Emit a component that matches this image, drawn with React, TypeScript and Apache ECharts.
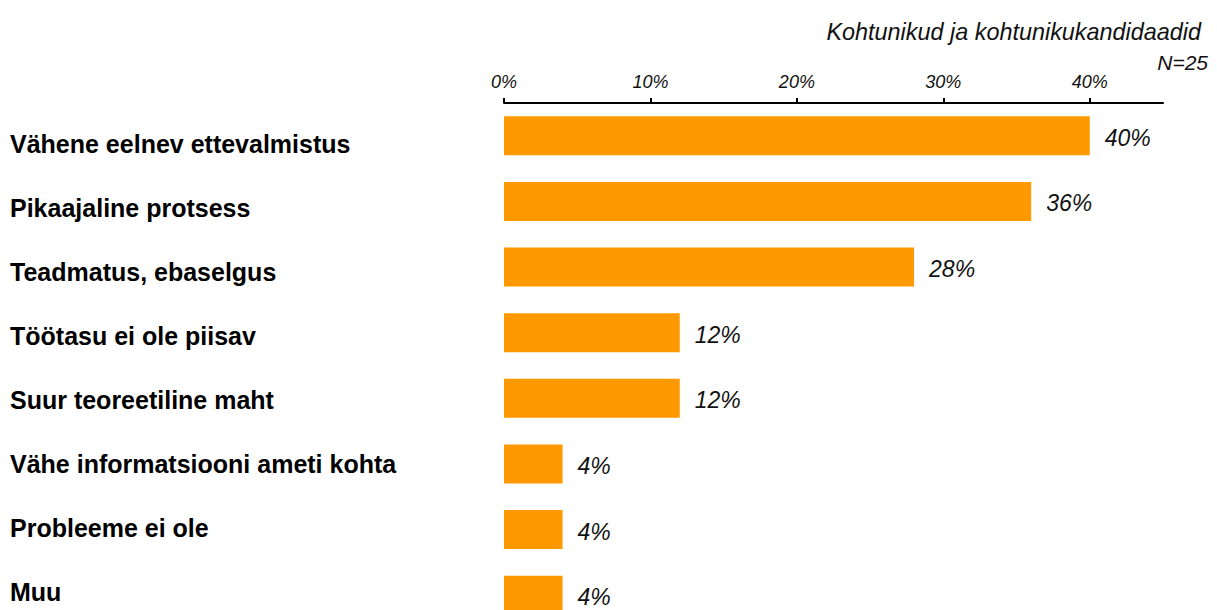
import React, { useEffect, useRef } from "react";
import * as echarts from "echarts";

const categories = [
  "Vähene eelnev ettevalmistus",
  "Pikaajaline protsess",
  "Teadmatus, ebaselgus",
  "Töötasu ei ole piisav",
  "Suur teoreetiline maht",
  "Vähe informatsiooni ameti kohta",
  "Probleeme ei ole",
  "Muu",
];
const values = [40, 36, 28, 12, 12, 4, 4, 4];
const tickValues = [0, 10, 20, 30, 40];
const titleText = "Kohtunikud ja kohtunikukandidaadid";
const sampleText = "N=25";

export default function App() {
  const ref = useRef<HTMLDivElement>(null);
  useEffect(() => {
    if (!ref.current) return;
    const chart = echarts.init(ref.current, null, { renderer: "svg" });
    const font = "'Liberation Sans', Arial, sans-serif";
    chart.setOption({
      animation: false,
      textStyle: { fontFamily: font },
      graphic: [
        {
          type: "text",
          right: 16,
          top: 20,
          style: {
            text: titleText,
            font: `italic 23.4px ${font}`,
            fill: "#111",
          },
        },
        {
          type: "text",
          right: 9,
          top: 52,
          style: {
            text: sampleText,
            font: `italic 21px ${font}`,
            fill: "#111",
          },
        },
      ],
      grid: [
        { left: 504, right: 54, top: 103, bottom: 12, containLabel: false },
        { left: 504, right: 54, top: 112.5, bottom: 16.3, containLabel: false },
      ],
      xAxis: [
        {
          type: "value",
          gridIndex: 0,
          position: "top",
          min: 0,
          max: 45,
          interval: 10,
          splitLine: { show: false },
          axisLine: { show: true, lineStyle: { color: "#000", width: 2 } },
          axisTick: {
            show: true,
            length: 5,
            lineStyle: { color: "#000", width: 2 },
            customValues: tickValues,
          },
          axisLabel: {
            customValues: tickValues,
            formatter: (v: number) => `${v}%`,
            fontStyle: "italic",
            fontSize: 18,
            color: "#111",
            margin: 12,
            fontFamily: font,
          },
        },
        {
          type: "value",
          gridIndex: 1,
          min: 0,
          max: 45,
          show: false,
        },
      ],
      yAxis: [
        {
          type: "category",
          gridIndex: 0,
          data: categories,
          inverse: true,
          axisLine: { show: false },
          axisTick: { show: false },
          axisLabel: { show: false },
        },
        {
          type: "category",
          gridIndex: 1,
          data: categories,
          inverse: true,
          axisLine: { show: false },
          axisTick: { show: false },
          splitLine: { show: false },
          axisLabel: {
            align: "left",
            margin: 494,
            fontSize: 25,
            fontWeight: "bold",
            color: "#000",
            fontFamily: font,
          },
        },
      ],
      series: [
        {
          type: "bar",
          xAxisIndex: 0,
          yAxisIndex: 0,
          data: values,
          barWidth: 39,
          itemStyle: { color: "#FF9900" },
          label: {
            show: true,
            position: "right",
            distance: 15,
            offset: [0, 2],
            formatter: "{c}%",
            fontStyle: "italic",
            fontSize: 23,
            color: "#111",
            fontFamily: font,
          },
        },
      ],
    });
    return () => chart.dispose();
  }, []);
  return (
    <div
      ref={ref}
      style={{ position: "absolute", left: 0, top: 0, width: 1217, height: 640 }}
    />
  );
}
